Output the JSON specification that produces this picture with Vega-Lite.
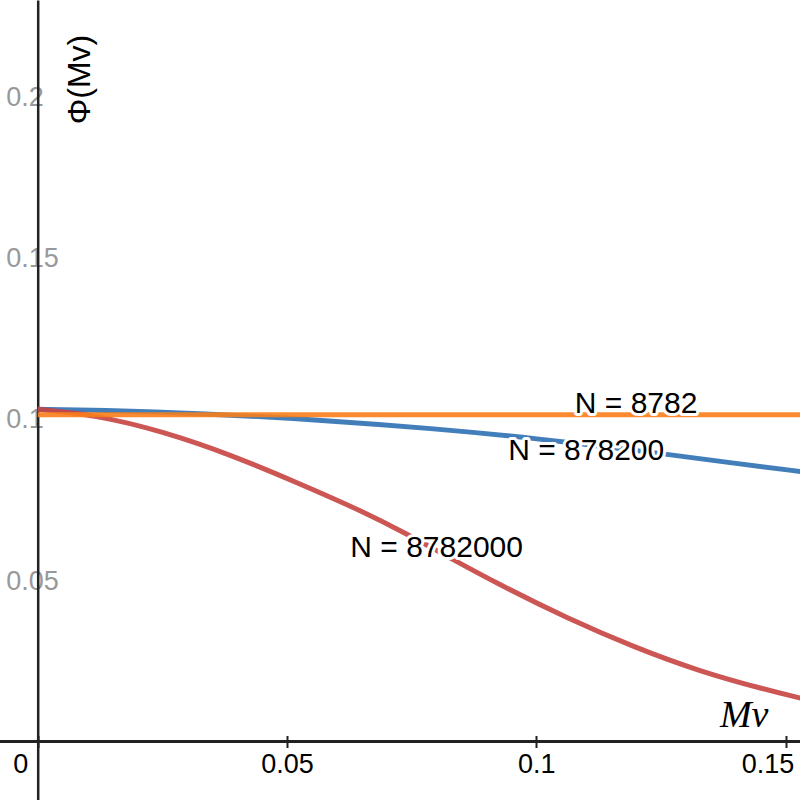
{
  "$schema": "https://vega.github.io/schema/vega-lite/v6.json",
  "width": 800,
  "height": 800,
  "autosize": "none",
  "padding": 0,
  "background": "white",
  "config": {"view": {"stroke": null}},
  "datasets": {
    "curves": [
      {"series": "N = 878200", "Mv": 0, "phi": 0.1030},
      {"series": "N = 878200", "Mv": 0.0125, "phi": 0.1028},
      {"series": "N = 878200", "Mv": 0.0326, "phi": 0.1018},
      {"series": "N = 878200", "Mv": 0.0587, "phi": 0.0995},
      {"series": "N = 878200", "Mv": 0.0788, "phi": 0.0971},
      {"series": "N = 878200", "Mv": 0.0989, "phi": 0.0942},
      {"series": "N = 878200", "Mv": 0.1263, "phi": 0.0891},
      {"series": "N = 878200", "Mv": 0.1390, "phi": 0.0864},
      {"series": "N = 878200", "Mv": 0.1531, "phi": 0.0837},
      {"series": "N = 8782000", "Mv": 0, "phi": 0.1030},
      {"series": "N = 8782000", "Mv": 0.0118, "phi": 0.1012},
      {"series": "N = 8782000", "Mv": 0.0252, "phi": 0.0961},
      {"series": "N = 8782000", "Mv": 0.0386, "phi": 0.0890},
      {"series": "N = 8782000", "Mv": 0.0520, "phi": 0.0803},
      {"series": "N = 8782000", "Mv": 0.0653, "phi": 0.0713},
      {"series": "N = 8782000", "Mv": 0.0741, "phi": 0.0643},
      {"series": "N = 8782000", "Mv": 0.0814, "phi": 0.0580},
      {"series": "N = 8782000", "Mv": 0.0926, "phi": 0.0486},
      {"series": "N = 8782000", "Mv": 0.1062, "phi": 0.0382},
      {"series": "N = 8782000", "Mv": 0.1195, "phi": 0.0293},
      {"series": "N = 8782000", "Mv": 0.1330, "phi": 0.0216},
      {"series": "N = 8782000", "Mv": 0.1464, "phi": 0.0159},
      {"series": "N = 8782000", "Mv": 0.1531, "phi": 0.0134},
      {"series": "N = 8782", "Mv": 0, "phi": 0.1013},
      {"series": "N = 8782", "Mv": 0.1531, "phi": 0.1013}
    ],
    "labels": [
      {"series": "N = 8782", "Mv": 0.1200, "phi": 0.1018},
      {"series": "N = 878200", "Mv": 0.1100, "phi": 0.0873},
      {"series": "N = 8782000", "Mv": 0.0800, "phi": 0.0571}
    ]
  },
  "layer": [
    {
      "data": {"name": "curves"},
      "mark": {"type": "rule", "color": "#222", "strokeWidth": 2.5},
      "encoding": {
        "y": {"datum": 0, "type": "quantitative"}
      }
    },
    {
      "data": {"name": "curves"},
      "mark": {"type": "line", "strokeWidth": 5, "opacity": 0.9, "clip": true, "interpolate": "basis"},
      "encoding": {
        "x": {
          "field": "Mv",
          "type": "quantitative",
          "scale": {"domain": [-0.00756, 0.15287], "nice": false, "zero": false},
          "axis": {
            "orient": "bottom",
            "offset": -64.5,
            "values": [0, 0.05, 0.1, 0.15],
            "format": "~g",
            "grid": false,
            "domain": false,
            "tickColor": "#222",
            "tickWidth": 2,
            "tickSize": 12,
            "labelFont": "Liberation Sans",
            "labelFontSize": 27,
            "labelColor": "#000",
            "labelPadding": 4,
            "labelBaseline": "top",
            "labelAlign": {"condition": {"test": "datum.value == 0 || datum.value > 0.149", "value": "right"}, "value": "center"},
            "labelOffset": {"condition": [{"test": "datum.value == 0", "value": -10}, {"test": "datum.value > 0.149", "value": 8}], "value": 0},
            "labelFlush": false,
            "labelOverlap": false,
            "title": "Mv",
            "titleFont": "Liberation Serif",
            "titleFontStyle": "italic",
            "titleFontWeight": "normal",
            "titleFontSize": 38,
            "titleColor": "#000",
            "titleAlign": "right",
            "titleBaseline": "alphabetic",
            "titleX": 768,
            "titleY": -9
          }
        },
        "y": {
          "field": "phi",
          "type": "quantitative",
          "scale": {"domain": [-0.01814, 0.22992], "nice": false, "zero": false},
          "axis": {
            "orient": "left",
            "offset": -37.7,
            "values": [0.05, 0.1, 0.15, 0.2],
            "format": "~g",
            "grid": false,
            "ticks": false,
            "tickSize": 0,
            "domainColor": "#222",
            "domainWidth": 2.5,
            "labelFont": "Liberation Sans",
            "labelFontSize": 27,
            "labelColor": "#999",
            "labelAlign": "left",
            "labelPadding": 32,
            "labelBaseline": "middle",
            "labelOffset": 1,
            "labelFlush": false,
            "labelOverlap": false,
            "title": "Φ(Mv)",
            "titleFont": "Liberation Sans",
            "titleFontSize": 32,
            "titleFontWeight": "normal",
            "titleColor": "#000",
            "titleAngle": -90,
            "titleAlign": "center",
            "titleBaseline": "alphabetic",
            "titleX": 52,
            "titleY": 79
          }
        },
        "color": {
          "field": "series",
          "type": "nominal",
          "scale": {
            "domain": ["N = 878200", "N = 8782000", "N = 8782"],
            "range": ["#2d70b3", "#c74440", "#fa7e19"]
          },
          "legend": null
        }
      }
    },
    {
      "data": {"name": "labels"},
      "mark": {"type": "text", "font": "Liberation Sans", "fontSize": 30, "align": "center", "baseline": "alphabetic", "stroke": "white", "strokeWidth": 6, "strokeJoin": "round", "fill": "white"},
      "encoding": {
        "x": {"field": "Mv", "type": "quantitative"},
        "y": {"field": "phi", "type": "quantitative"},
        "text": {"field": "series"}
      }
    },
    {
      "data": {"name": "labels"},
      "mark": {"type": "text", "font": "Liberation Sans", "fontSize": 30, "align": "center", "baseline": "alphabetic", "fill": "#000"},
      "encoding": {
        "x": {"field": "Mv", "type": "quantitative"},
        "y": {"field": "phi", "type": "quantitative"},
        "text": {"field": "series"}
      }
    }
  ]
}
